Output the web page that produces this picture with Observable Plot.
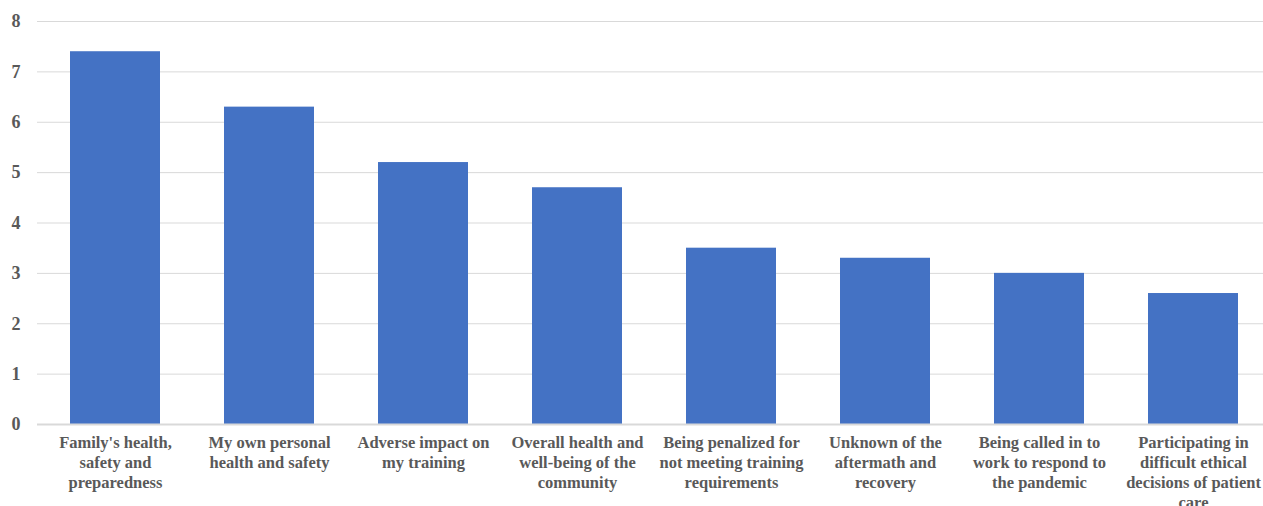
<!DOCTYPE html>
<html>
<head>
<meta charset="utf-8">
<script src="https://cdn.jsdelivr.net/npm/d3@7"></script>
<script src="https://cdn.jsdelivr.net/npm/@observablehq/plot@0.6"></script>
<style>
  html, body { margin: 0; padding: 0; background: #fff; overflow: hidden; }
  svg text { font-family: "Liberation Serif", "Times New Roman", "DejaVu Serif", serif !important; }
</style>
</head>
<body>
<div id="chart"></div>
<script>
const categories = [
  "Family's health,\nsafety and\npreparedness",
  "My own personal\nhealth and safety",
  "Adverse impact on\nmy training",
  "Overall health and\nwell-being of the\ncommunity",
  "Being penalized for\nnot meeting training\nrequirements",
  "Unknown of the\naftermath and\nrecovery",
  "Being called in to\nwork to respond to\nthe pandemic",
  "Participating in\ndifficult ethical\ndecisions of patient\ncare"
];
const values = [7.4, 6.3, 5.2, 4.7, 3.5, 3.3, 3.0, 2.6];
const yTicks = [0, 1, 2, 3, 4, 5, 6, 7, 8];

const data = categories.map((c, i) => ({cat: c, val: values[i]}));

const chart = Plot.plot({
  width: 1263,
  height: 506,
  marginTop: 21,
  marginBottom: 82,
  marginLeft: 37,
  marginRight: -9,
  style: {fontFamily: "Liberation Serif, serif", color: "#595959", background: "#fff", overflow: "visible"},
  x: {domain: categories, paddingInner: 0.415, paddingOuter: 0.21, label: null},
  y: {domain: [0, 8], ticks: yTicks, label: null},
  marks: [
    Plot.gridY(yTicks, {stroke: "#d9d9d9", strokeOpacity: 1, strokeWidth: 1}),
    Plot.barY(data, {x: "cat", y: "val", fill: "#4472C4"}),
    Plot.ruleY([0], {stroke: "#d9d9d9", strokeWidth: 2}),
    Plot.axisY(yTicks, {tickSize: 0, tickPadding: 17, tickFormat: d3.format("d"), fontSize: 18, fontWeight: "bold", fill: "#595959", label: null}),
    Plot.axisX({tickSize: 0, tickPadding: 9, fontSize: 16.5, fontWeight: "bold", fill: "#595959", lineHeight: 1.21, label: null})
  ]
});
document.getElementById("chart").appendChild(chart);
</script>
</body>
</html>
